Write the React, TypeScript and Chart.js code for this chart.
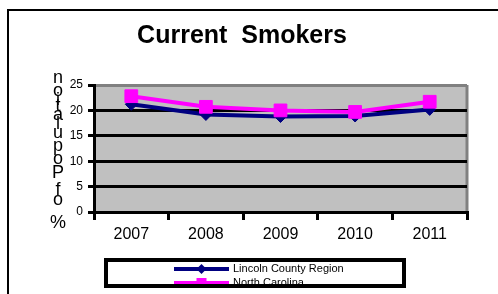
import React, { useEffect, useRef } from "react";
import { Chart, registerables } from "chart.js";

Chart.register(...registerables);

const chartTitle = "Current  Smokers";
const yAxisTitle = "% of Population";
const years = ["2007", "2008", "2009", "2010", "2011"];
const lincolnLabel = "Lincoln County Region";
const lincolnValues = [21.2, 19.2, 18.8, 18.9, 20.2];
const ncLabel = "North Carolina";
const ncValues = [22.8, 20.7, 20.0, 19.7, 21.7];
const yMin = 0;
const yMax = 25;
const yStep = 5;

const FONT = "'Liberation Sans', Arial, sans-serif";

const plotBgPlugin = {
  id: "plotBg",
  beforeDraw(chart: any) {
    const { ctx, chartArea: ca } = chart;
    ctx.save();
    ctx.fillStyle = "#C0C0C0";
    ctx.fillRect(ca.left, ca.top, ca.right - ca.left, ca.bottom - ca.top);
    ctx.strokeStyle = "#808080";
    ctx.lineWidth = 3;
    ctx.beginPath();
    ctx.moveTo(ca.right, ca.top);
    ctx.lineTo(ca.right, ca.bottom);
    ctx.stroke();
    ctx.restore();
  },
};

const yTitlePlugin = {
  id: "yTitleStacked",
  afterDraw(chart: any) {
    const { ctx, chartArea: ca } = chart;
    ctx.save();
    ctx.font = `18px ${FONT}`;
    ctx.fillStyle = "#000";
    ctx.textAlign = "center";
    ctx.textBaseline = "middle";
    const chars = Array.from(yAxisTitle);
    const widths = chars.map((c) => ctx.measureText(c).width);
    const centers: number[] = [];
    let acc = 0;
    widths.forEach((w) => {
      centers.push(acc + w / 2);
      acc += w;
    });
    const first = centers[0];
    const last = centers[centers.length - 1];
    const yStart = ca.bottom + 11;
    const yEnd = ca.top - 7;
    const x = ca.left - 36;
    chars.forEach((c, i) => {
      if (c === " ") return;
      const t = (centers[i] - first) / (last - first);
      ctx.fillText(c, x, yStart + (yEnd - yStart) * t);
    });
    ctx.restore();
  },
};

const legendPlugin = {
  id: "boxLegend",
  afterDraw(chart: any) {
    const { ctx, chartArea: ca } = chart;
    const bx = ca.left + 12;
    const by = ca.bottom + 48;
    const bw = 298;
    const bh = 26;
    ctx.save();
    ctx.fillStyle = "#fff";
    ctx.fillRect(bx, by, bw, bh + 6);
    const rows = [by + 9, by + 23];
    chart.data.datasets.forEach((ds: any, i: number) => {
      const y = rows[i];
      const x0 = ca.left + 80;
      const x1 = ca.left + 135;
      const xm = (x0 + x1) / 2;
      ctx.strokeStyle = ds.borderColor;
      ctx.lineWidth = 4;
      ctx.beginPath();
      ctx.moveTo(x0, y);
      ctx.lineTo(x1, y);
      ctx.stroke();
      ctx.fillStyle = ds.borderColor;
      ctx.beginPath();
      if (ds.pointStyle === "rectRot") {
        ctx.moveTo(xm - 5, y);
        ctx.lineTo(xm, y - 5);
        ctx.lineTo(xm + 5, y);
        ctx.lineTo(xm, y + 5);
        ctx.closePath();
      } else {
        ctx.rect(xm - 5, y - 5, 10, 10);
      }
      ctx.fill();
      ctx.fillStyle = "#000";
      ctx.font = `11px ${FONT}`;
      ctx.textAlign = "left";
      ctx.textBaseline = "middle";
      ctx.fillText(ds.label, x1 + 4, y);
    });
    ctx.strokeStyle = "#000";
    ctx.lineWidth = 4;
    ctx.strokeRect(bx, by, bw, bh);
    ctx.fillStyle = "#fff";
    ctx.fillRect(bx - 2, by + bh + 2, bw + 4, 10);
    ctx.restore();
  },
};

export default function App() {
  const canvasRef = useRef<HTMLCanvasElement | null>(null);

  useEffect(() => {
    if (!canvasRef.current) return;
    const chart = new Chart(canvasRef.current, {
      type: "line",
      data: {
        labels: years,
        datasets: [
          {
            label: lincolnLabel,
            data: lincolnValues,
            borderColor: "#000080",
            backgroundColor: "#000080",
            borderWidth: 4,
            pointStyle: "rectRot",
            pointRadius: 6,
            pointBorderWidth: 1,
            pointHoverRadius: 6,
            tension: 0,
            order: 2,
          },
          {
            label: ncLabel,
            data: ncValues,
            borderColor: "#FF00FF",
            backgroundColor: "#FF00FF",
            borderWidth: 4,
            pointStyle: "rect",
            pointRadius: 9,
            pointBorderWidth: 1,
            pointHoverRadius: 9,
            tension: 0,
            order: 1,
          },
        ],
      },
      options: {
        responsive: false,
        animation: false,
        events: [],
        layout: { padding: { left: 17, right: 31, top: 10, bottom: 52 } },
        plugins: {
          legend: { display: false },
          tooltip: { enabled: false },
          title: {
            display: true,
            text: chartTitle,
            color: "#000",
            font: { family: FONT, size: 25, weight: "bold" },
            padding: { top: 11, bottom: 34 },
          },
        },
        scales: {
          x: {
            offset: true,
            grid: {
              offset: true,
              drawOnChartArea: false,
              drawTicks: true,
              tickLength: 8,
              color: "#000",
              lineWidth: 3,
            },
            border: { display: true, color: "#000", width: 3 },
            ticks: {
              color: "#000",
              font: { family: FONT, size: 16 },
              padding: 5,
              maxRotation: 0,
            },
            afterFit: (s: any) => {
              s.height = 30;
            },
          },
          y: {
            min: yMin,
            max: yMax,
            ticks: {
              stepSize: yStep,
              color: "#000",
              font: { family: FONT, size: 12 },
              padding: 5,
            },
            grid: {
              color: (c: any) => (c.tick && c.tick.value === yMax ? "#808080" : "#000"),
              tickColor: "#000",
              lineWidth: 3,
              drawTicks: true,
              tickLength: 6,
            },
            border: { display: true, color: "#000", width: 3 },
            afterFit: (s: any) => {
              s.width = 77;
            },
          },
        },
      },
      plugins: [plotBgPlugin, yTitlePlugin, legendPlugin],
    });
    return () => chart.destroy();
  }, []);

  return (
    <div
      style={{
        position: "fixed",
        left: 0,
        top: 0,
        width: 498,
        height: 294,
        overflow: "hidden",
        background: "#fff",
      }}
    >
      <div
        style={{
          position: "absolute",
          left: 7,
          top: 9,
          width: 560,
          height: 360,
          border: "2px solid #000",
          boxSizing: "border-box",
        }}
      />
      <canvas
        ref={canvasRef}
        width={498}
        height={294}
        style={{ position: "absolute", left: 0, top: 0, display: "block" }}
      />
    </div>
  );
}
